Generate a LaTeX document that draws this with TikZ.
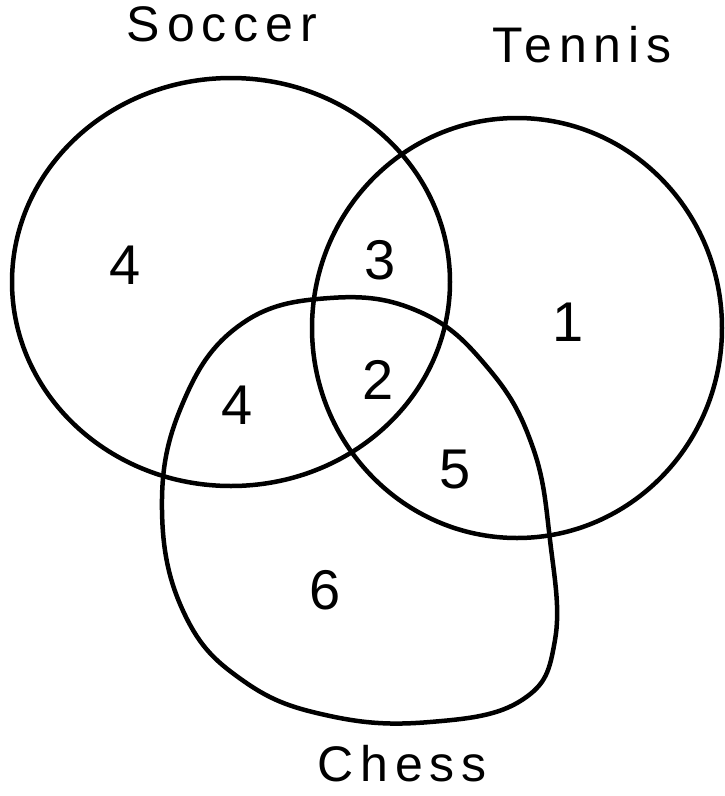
\documentclass[tikz,border=0pt]{standalone}
\usepackage{fontspec}
\setmainfont{Liberation Sans}
\begin{document}
\begin{tikzpicture}[x=1pt,y=-1pt,
  curve/.style={line width=4.5pt,black,line join=round,line cap=round},
  title/.style={font=\fontsize{50}{54}\selectfont\addfontfeature{LetterSpace=14},inner sep=0pt},
  num/.style={font=\fontsize{56}{60}\selectfont,inner sep=0pt}]
\useasboundingbox (0,0) rectangle (724,796);
\fill[white] (0,0) rectangle (724,796);
% Soccer
\draw[curve] (231,282) ellipse [x radius=219, y radius=204];
% Tennis
\draw[curve] (517,328) ellipse [x radius=205, y radius=210];
% Chess
\draw[curve] plot[smooth cycle, tension=0.7] coordinates {
 (330,298) (420,312) (488,368) (532,445) (550,540) (555,640) (522,700)
 (430,722) (330,716) (245,682) (185,615) (162,510) (182,405) (240,325)};
\node[title] (soccer) at (222,24) {Soccer};
\node[title] (tennis) at (582,45) {Tennis};
\node[title] (chess) at (402,764) {Chess};
\node[num] (s) at (125,265) {4};
\node[num] (st) at (380,260) {3};
\node[num] (t) at (568,322) {1};
\node[num] (sc) at (237,405) {4};
\node[num] (stc) at (378,380) {2};
\node[num] (tc) at (455,470) {5};
\node[num] (c) at (325,590) {6};
\end{tikzpicture}
\end{document}
